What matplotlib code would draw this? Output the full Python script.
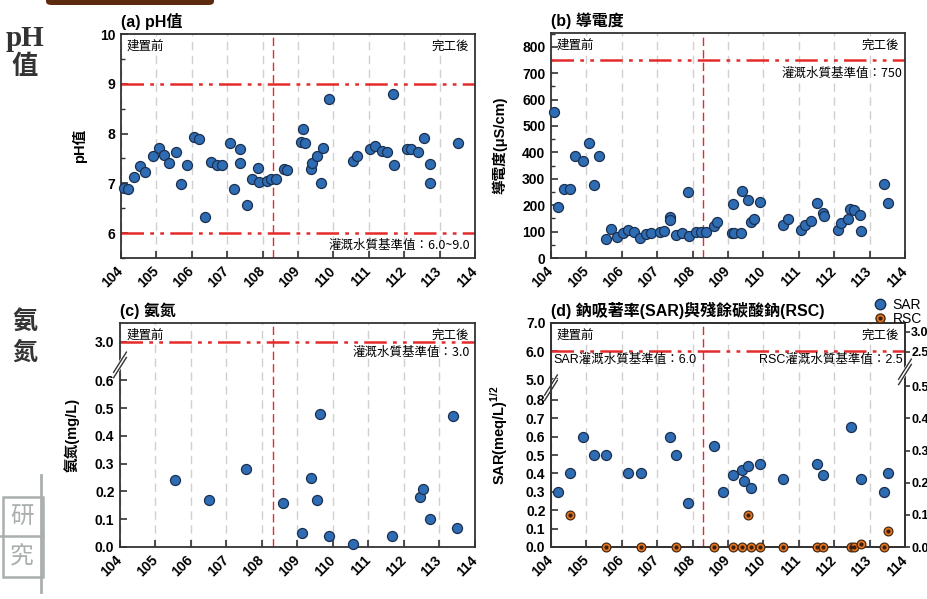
import numpy as np
import matplotlib
matplotlib.use("Agg")
import matplotlib.pyplot as plt
from matplotlib.lines import Line2D
from matplotlib.patches import FancyBboxPatch, Rectangle

plt.rcParams['font.family'] = ['Liberation Sans', 'Noto Sans CJK TC', 'DejaVu Sans']
plt.rcParams['mathtext.fontset'] = 'custom'
plt.rcParams['mathtext.bf'] = 'Liberation Sans:bold'
plt.rcParams['mathtext.rm'] = 'Liberation Sans'

# 年份 (民國), 竣工分界
years = [104, 105, 106, 107, 108, 109, 110, 111, 112, 113, 114]
year_labels = [str(y) for y in years]
split_year = 108.3

# (a) pH
ph_x = [104.08, 104.2, 104.37, 104.54, 104.69, 104.89, 105.07, 105.22, 105.36, 105.56,
        105.69, 105.87, 106.05, 106.2, 106.36, 106.53, 106.72, 106.84, 107.08, 107.2,
        107.37, 107.35, 107.55, 107.7, 107.87, 107.89, 108.12, 108.24, 108.37, 108.6,
        108.68, 109.08, 109.14, 109.2, 109.37, 109.4, 109.55, 109.65, 109.71, 109.88,
        110.55, 110.67, 111.04, 111.18, 111.36, 111.51, 111.68, 111.71, 112.09, 112.18,
        112.38, 112.55, 112.72, 112.74, 113.51]
ph_y = [6.9, 6.89, 7.13, 7.35, 7.22, 7.55, 7.71, 7.57, 7.41, 7.63,
        6.98, 7.37, 7.93, 7.89, 6.33, 7.43, 7.37, 7.37, 7.81, 6.89,
        7.69, 7.41, 6.56, 7.08, 7.31, 7.03, 7.04, 7.08, 7.08, 7.29,
        7.27, 7.83, 8.1, 7.81, 7.29, 7.41, 7.55, 7.01, 7.71, 8.7,
        7.45, 7.54, 7.69, 7.75, 7.65, 7.63, 8.8, 7.37, 7.69, 7.69,
        7.63, 7.91, 7.38, 7.01, 7.81]

# (b) 導電度
ec_x = [104.09, 104.19, 104.36, 104.53, 104.69, 104.89, 105.06, 105.22, 105.36, 105.54,
        105.69, 105.86, 106.04, 106.18, 106.34, 106.52, 106.68, 106.82, 107.07, 107.2,
        107.35, 107.37, 107.54, 107.7, 107.87, 107.9, 108.11, 108.24, 108.38, 108.6,
        108.68, 109.11, 109.14, 109.18, 109.37, 109.4, 109.56, 109.66, 109.73, 109.89,
        110.55, 110.69, 111.05, 111.18, 111.35, 111.52, 111.69, 111.71, 112.12, 112.19,
        112.39, 112.46, 112.56, 112.73, 112.75, 113.4, 113.52]
ec_y = [553, 192, 263, 260, 388, 369, 435, 275, 388, 71,
        109, 78, 94, 106, 100, 77, 90, 96, 100, 102,
        155, 145, 88, 96, 250, 83, 100, 100, 100, 120,
        136, 96, 206, 96, 96, 255, 219, 136, 148, 211,
        126, 149, 106, 124, 142, 209, 172, 158, 105, 134,
        148, 187, 181, 164, 102, 281, 210]

# (c) 氨氮
nh_x = [105.55, 106.52, 107.54, 108.59, 109.13, 109.38, 109.55, 109.64, 109.88, 110.55,
        111.67, 112.45, 112.54, 112.73, 113.38, 113.5]
nh_y = [0.24, 0.17, 0.28, 0.16, 0.05, 0.25, 0.17, 0.48, 0.04, 0.01,
        0.04, 0.18, 0.21, 0.10, 0.47, 0.07]

# (d) SAR / RSC
sar_x = [104.19, 104.54, 104.89, 105.22, 105.54, 106.18, 106.53, 107.35, 107.54, 107.88,
         108.6, 108.86, 109.14, 109.4, 109.44, 109.56, 109.66, 109.89, 110.55, 111.52,
         111.69, 112.47, 112.75, 113.4, 113.52]
sar_y = [0.30, 0.40, 0.60, 0.50, 0.50, 0.40, 0.40, 0.60, 0.50, 0.24,
         0.55, 0.30, 0.39, 0.42, 0.36, 0.44, 0.32, 0.45, 0.37, 0.45,
         0.39, 0.65, 0.37, 0.30, 0.40]
rsc_x = [104.54, 105.54, 106.53, 107.54, 108.6, 109.14, 109.4, 109.56, 109.66, 109.89,
         110.55, 111.52, 111.69, 112.47, 112.56, 112.75, 113.4, 113.52]
rsc_y = [0.10, 0.0, 0.0, 0.0, 0.0, 0.0, 0.0, 0.10, 0.0, 0.0,
         0.0, 0.0, 0.0, 0.0, 0.0, 0.01, 0.0, 0.05]

BLUE = '#2E6DB4'
BLUE_EDGE = '#1B2F4F'
ORANGE = '#E87722'
RED = '#E42A2A'
DASHDOTDOT = (0, (9, 2.5, 1.5, 2.5, 1.5, 2.5))
CJK = ['Noto Sans CJK TC']

W, H = 928, 599
fig = plt.figure(figsize=(W / 100, H / 100), dpi=100)


def box(l, t, r, b):
    return [l / W, 1 - b / H, (r - l) / W, (b - t) / H]


def style(ax, title, ylabel, lab_x):
    ax.set_xlim(104, 114)
    ax.set_xticks(years)
    ax.set_xticklabels(year_labels, rotation=45, ha='right', va='center',
                       rotation_mode='anchor', fontweight='bold', fontsize=10)
    ax.xaxis.grid(True, color='#d0d0d0', ls=(0, (6, 4)), lw=1)
    ax.tick_params(direction='in', length=5, width=1.2, pad=8, labelsize=10,
                   color='#333333')
    ax.tick_params(which='minor', direction='in', length=3, width=1, color='#333333')
    ax.tick_params(axis='y', pad=4)
    for lbl in ax.get_yticklabels():
        lbl.set_fontweight('bold')
    for s in ax.spines.values():
        s.set_color('#333333')
        s.set_linewidth(1.3)
    ax.axvline(split_year, color=RED, lw=1.0, ls=(0, (6, 3)), zorder=2)
    ax.set_title(title, loc='left', fontsize=11.5, fontweight='bold', pad=5,
                 family=['Liberation Sans', 'Noto Sans CJK TC'])
    ax.set_ylabel(ylabel, fontsize=10.5, fontweight='bold',
                  family=['Liberation Sans', 'Noto Sans CJK TC'])
    ax.yaxis.set_label_coords(lab_x, 0.5)
    ax.text(0.017, 0.945, '建置前', transform=ax.transAxes, fontsize=9,
            family=CJK, va='center', ha='left')
    ax.text(0.983, 0.945, '完工後', transform=ax.transAxes, fontsize=9,
            family=CJK, va='center', ha='right')


def break_mark(ax, x, y):
    tr = ax.transAxes
    ax.plot([x - 0.012, x + 0.012], [y - 0.03, y + 0.03], transform=tr,
            color='white', lw=4, clip_on=False, zorder=5)
    for dy in (-0.012, 0.012):
        ax.plot([x - 0.018, x + 0.018], [y - 0.045 + dy, y + 0.045 + dy], transform=tr,
                color='#333333', lw=1, clip_on=False, zorder=6)


def scat(ax, x, y):
    ax.scatter(x, y, s=52, c=BLUE, edgecolors=BLUE_EDGE, linewidths=0.9,
               zorder=4, clip_on=False)


# (a) pH值
ax1 = fig.add_axes(box(121, 34, 475, 258))
scat(ax1, ph_x, ph_y)
ax1.set_ylim(5.5, 10)
ax1.set_yticks([6, 7, 8, 9, 10])
ax1.set_yticks([5.5, 6.5, 7.5, 8.5, 9.5], minor=True)
ax1.axhline(9, color=RED, lw=1.8, ls=DASHDOTDOT, zorder=2)
ax1.axhline(6, color=RED, lw=1.8, ls=DASHDOTDOT, zorder=2)
style(ax1, '(a) pH值', 'pH值', -0.095)
ax1.text(0.985, 0.058, '灌溉水質基準值：6.0~9.0', transform=ax1.transAxes,
         fontsize=9, family=CJK, ha='right', va='center')

# (b) 導電度
ax2 = fig.add_axes(box(551, 33, 905, 258))
scat(ax2, ec_x, ec_y)
ax2.set_ylim(0, 852)
ax2.set_yticks(range(0, 801, 100))
ax2.set_yticks(range(50, 851, 100), minor=True)
ax2.axhline(750, color=RED, lw=1.8, ls=DASHDOTDOT, zorder=2)
style(ax2, '(b) 導電度', '導電度(μS/cm)', -0.123)
ax2.text(0.994, 0.822, '灌溉水質基準值：750', transform=ax2.transAxes,
         fontsize=9, family=CJK, ha='right', va='center')


# (c) 氨氮 -- broken axis
def fc(y):
    y = np.asarray(y, dtype=float)
    return np.where(y <= 0.7, y, 0.7 + (y - 0.7) * 0.01652)


def fc_inv(u):
    u = np.asarray(u, dtype=float)
    return np.where(u <= 0.7, u, 0.7 + (u - 0.7) / 0.01652)


ax3 = fig.add_axes(box(120, 323, 475, 547))
ax3.set_yscale('function', functions=(fc, fc_inv))
scat(ax3, nh_x, nh_y)
ax3.set_ylim(0, 7.12)
ax3.set_yticks([0, 0.1, 0.2, 0.3, 0.4, 0.5, 0.6, 3.0])
ax3.set_yticklabels(['0.0', '0.1', '0.2', '0.3', '0.4', '0.5', '0.6', '3.0'])
ax3.yaxis.set_minor_locator(matplotlib.ticker.NullLocator())
ax3.axhline(3.0, color=RED, lw=1.8, ls=DASHDOTDOT, zorder=2)
style(ax3, '(c) 氨氮', '氨氮(mg/L)', -0.114)
ax3.text(0.985, 0.867, '灌溉水質基準值：3.0', transform=ax3.transAxes,
         fontsize=9, family=CJK, ha='right', va='center')
break_mark(ax3, 0.0, 0.813)


# (d) SAR / RSC -- broken axes
def fs(y):
    y = np.asarray(y, dtype=float)
    return np.where(y <= 0.8, y,
                    np.where(y <= 5.0, 0.8 + (y - 0.8) * 0.02683,
                             0.9127 + (y - 5.0) * 0.1524))


def fs_inv(u):
    u = np.asarray(u, dtype=float)
    return np.where(u <= 0.8, u,
                    np.where(u <= 0.9127, 0.8 + (u - 0.8) / 0.02683,
                             5.0 + (u - 0.9127) / 0.1524))


def fr(y):
    y = np.asarray(y, dtype=float)
    return np.where(y <= 0.5, y,
                    np.where(y <= 2.5, 0.5 + (y - 0.5) * 0.0539,
                             0.6078 + (y - 2.5) * 0.1242))


def fr_inv(u):
    u = np.asarray(u, dtype=float)
    return np.where(u <= 0.5, u,
                    np.where(u <= 0.6078, 0.5 + (u - 0.5) / 0.0539,
                             2.5 + (u - 0.6078) / 0.1242))


ax4 = fig.add_axes(box(551, 323, 905, 547))
ax4.set_yscale('function', functions=(fs, fs_inv))
scat(ax4, sar_x, sar_y)
ax4.set_ylim(0, 7.0)
sar_ticks = [0, 0.1, 0.2, 0.3, 0.4, 0.5, 0.6, 0.7, 0.8, 5.0, 6.0, 7.0]
ax4.set_yticks(sar_ticks)
ax4.set_yticklabels(['%.1f' % t for t in sar_ticks])
ax4.yaxis.set_minor_locator(matplotlib.ticker.NullLocator())
ax4.axhline(6.0, color=RED, lw=1.8, ls=DASHDOTDOT, zorder=2)
style(ax4, '(d) 鈉吸著率(SAR)與殘餘碳酸鈉(RSC)', r'SAR(meq/L)$^{\mathbf{1/2}}$', -0.115)
ax4.text(0.006, 0.836, 'SAR灌溉水質基準值：6.0', transform=ax4.transAxes,
         fontsize=9, family=['Liberation Sans', 'Noto Sans CJK TC'], ha='left', va='center')
ax4.text(0.994, 0.836, 'RSC灌溉水質基準值：2.5', transform=ax4.transAxes,
         fontsize=9, family=['Liberation Sans', 'Noto Sans CJK TC'], ha='right', va='center')
break_mark(ax4, 0.0, 0.711)

ax5 = ax4.twinx()
ax5.set_yscale('function', functions=(fr, fr_inv))
ax5.scatter(rsc_x, rsc_y, s=40, c=ORANGE, edgecolors='#4a2a10', linewidths=0.9,
            zorder=4, clip_on=False)
ax5.scatter(rsc_x, rsc_y, s=4, c='#3a2010', zorder=5, clip_on=False)
ax5.set_ylim(0, 3.2175)
rsc_ticks = [0, 0.1, 0.2, 0.3, 0.4, 0.5, 2.5, 3.0]
ax5.set_yticks(rsc_ticks)
ax5.set_yticklabels(['%.1f' % t for t in rsc_ticks], fontweight='bold')
ax5.yaxis.set_minor_locator(matplotlib.ticker.NullLocator())
ax5.tick_params(axis='y', direction='out', length=3.5, width=1.2, labelsize=9,
                color='#333333', pad=1)
for s in ax5.spines.values():
    s.set_color('#333333')
    s.set_linewidth(1.3)
break_mark(ax5, 1.0, 0.782)

sar_handle = Line2D([], [], marker='o', ls='', ms=7.5, mfc=BLUE, mec=BLUE_EDGE)
rsc_handle = (Line2D([], [], marker='o', ls='', ms=6.5, mfc=ORANGE, mec='#4a2a10'),
              Line2D([], [], marker='o', ls='', ms=2, mfc='#3a2010', mec='#3a2010'))
fig.legend([sar_handle, rsc_handle], ['SAR', 'RSC'], loc='upper left',
           bbox_to_anchor=(865 / W, 1 - 291 / H),
           frameon=False, fontsize=10, handletextpad=0.3, labelspacing=0.0,
           handlelength=1.2, borderpad=0)

# left side labels
fig.text(25 / W, 1 - 38 / H, 'pH', fontsize=21, fontweight='bold',
         family='Liberation Serif', color='#333333', ha='center', va='center')
fig.text(25 / W, 1 - 67 / H, '值', fontsize=19, fontweight='bold',
         family=CJK, color='#333333', ha='center', va='center')
fig.text(25 / W, 1 - 322 / H, '氨', fontsize=18, fontweight='bold',
         family=CJK, color='#333333', ha='center', va='center')
fig.text(25 / W, 1 - 353 / H, '氮', fontsize=18, fontweight='bold',
         family=CJK, color='#333333', ha='center', va='center')

# brown header bar
fig.add_artist(FancyBboxPatch((46 / W, 1 - 5 / H), 168 / W, 9 / H,
                              boxstyle='round,pad=0,rounding_size=0.006',
                              transform=fig.transFigure, fc='#5C2A0E', ec='none'))

# watermark logo
LOGO = '#A9B0AC'
fig.add_artist(Line2D([41 / W, 41 / W], [1 - 475 / H, 1 - 592 / H],
                      transform=fig.transFigure, color=LOGO, lw=2))
fig.add_artist(Rectangle((3 / W, 1 - 577 / H), 40 / W, 80 / H, transform=fig.transFigure,
                         fill=False, ec=LOGO, lw=1.8))
fig.add_artist(Line2D([0, 43 / W], [1 - 536 / H, 1 - 536 / H],
                      transform=fig.transFigure, color=LOGO, lw=1.8))
fig.text(22 / W, 1 - 516 / H, '研', fontsize=17, family=CJK, color=LOGO,
         ha='center', va='center')
fig.text(22 / W, 1 - 557 / H, '究', fontsize=17, family=CJK, color=LOGO,
         ha='center', va='center')

fig.savefig('out.png', dpi=100)
